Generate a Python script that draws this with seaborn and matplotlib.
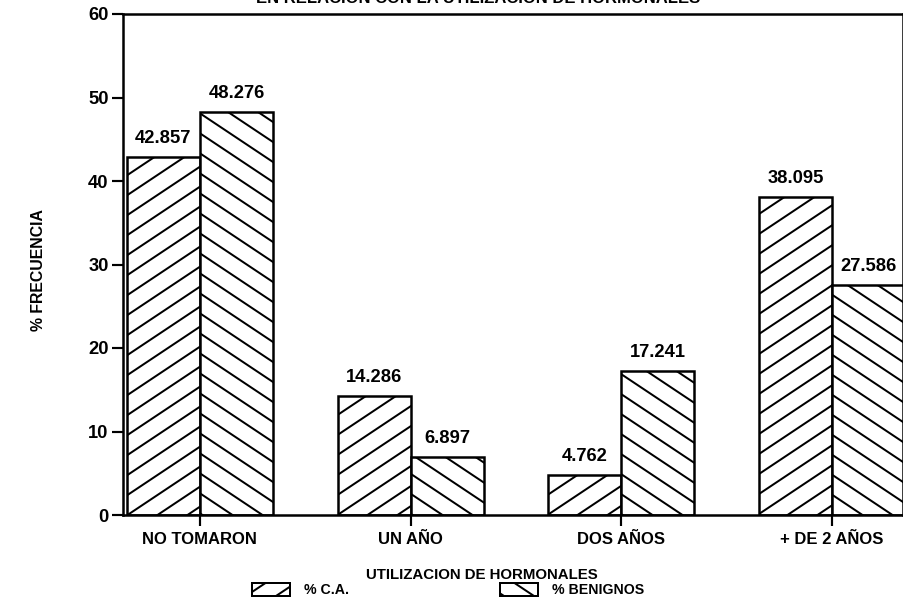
import numpy as np
import pandas as pd
import matplotlib
matplotlib.use("Agg")
import matplotlib.pyplot as plt
import matplotlib.patches as mpatches
import matplotlib.hatch as mhatch
from matplotlib.path import Path
import seaborn as sns

# datos
categorias = ["NO TOMARON", "UN AÑO", "DOS AÑOS", "+ DE 2 AÑOS"]
series = ["% C.A.", "% BENIGNOS"]
pct_ca = [42.857, 14.286, 4.762, 38.095]
pct_benignos = [48.276, 6.897, 17.241, 27.586]
yticks = [0, 10, 20, 30, 40, 50, 60]

df = pd.DataFrame({
    "utilizacion": categorias * 2,
    "serie": [series[0]] * 4 + [series[1]] * 4,
    "pct": pct_ca + pct_benignos,
})


# rayado mas tendido que 45 grados (pendiente 2/3), como en el original
class RayadoTendido(mhatch.HatchPatternBase):
    pendiente = 2 / 3
    caracter = "/"

    def __init__(self, hatch, density):
        self.n = int(hatch.count(self.caracter) * density / 2)
        if self.n:
            self.ks = np.arange(-int(np.ceil(self.pendiente * self.n)) - 2, self.n + 3)
            self.num_vertices = len(self.ks) * 2
        else:
            self.num_vertices = 0

    def set_vertices_and_codes(self, vertices, codes):
        c = self.ks / self.n
        x0, x1 = -0.3, 1.3
        if self.caracter == "/":
            vertices[0::2, 0] = x0
            vertices[0::2, 1] = c + self.pendiente * x0
            vertices[1::2, 0] = x1
            vertices[1::2, 1] = c + self.pendiente * x1
        else:
            vertices[0::2, 0] = x0
            vertices[0::2, 1] = c - self.pendiente * x0 + self.pendiente
            vertices[1::2, 0] = x1
            vertices[1::2, 1] = c - self.pendiente * x1 + self.pendiente
        codes[0::2] = Path.MOVETO
        codes[1::2] = Path.LINETO


class RayadoTendidoInv(RayadoTendido):
    caracter = "\\"


mhatch._hatch_types = [t for t in mhatch._hatch_types
                       if t not in (mhatch.NorthEastHatch, mhatch.SouthEastHatch)]
mhatch._hatch_types += [RayadoTendido, RayadoTendidoInv]

negro = {"axes.edgecolor": "black", "text.color": "black", "xtick.color": "black",
         "ytick.color": "black", "axes.labelcolor": "black"}
sns.set_style("ticks", negro)
plt.rcParams["font.family"] = ["Liberation Sans", "DejaVu Sans"]
plt.rcParams["font.weight"] = "bold"
plt.rcParams["hatch.linewidth"] = 1.2
plt.rcParams["hatch.color"] = "black"

fig = plt.figure(figsize=(903 / 120, 601 / 120), dpi=120)
ax = fig.add_axes([123 / 903, 86 / 601, 1 - 123 / 903, 501 / 601])

sns.barplot(data=df, x="utilizacion", y="pct", hue="serie", order=categorias,
            hue_order=series, palette=["white", "white"], edgecolor="black",
            linewidth=1.5, width=0.693, gap=0, legend=False, ax=ax)

hatches = ["//", "\\\\"]
for cont, h in zip(ax.containers, hatches):
    for bar in cont:
        bar.set_hatch(h)
    ax.bar_label(cont, fmt="%.3f", padding=6, fontsize=11, fontweight="bold")

ax.set_xlim(-0.365, 3.336)
ax.set_ylim(0, 60)
ax.set_yticks(yticks)
ax.tick_params(axis="both", length=6.6, width=1.3, direction="out")
ax.tick_params(axis="x", labelsize=10, pad=3.5)
ax.tick_params(axis="y", labelsize=11, pad=2)
for lab in ax.get_xticklabels() + ax.get_yticklabels():
    lab.set_fontweight("bold")
for sp in ax.spines.values():
    sp.set_linewidth(1.5)

ax.set_xlabel("UTILIZACION DE HORMONALES", fontsize=9, fontweight="bold")
ax.xaxis.set_label_coords(0.46, -0.106)
ax.set_ylabel("% FRECUENCIA", fontsize=9.5, fontweight="bold")
ax.yaxis.set_label_coords(-0.099, 0.49)

# titulo cortado en el borde superior
fig.text(478 / 903, 1 - 6 / 601, "EN RELACION CON LA UTILIZACION DE HORMONALES",
         ha="center", va="bottom", fontsize=10, fontweight="bold")

handles = [mpatches.Patch(facecolor="white", edgecolor="black", hatch=h, linewidth=1.2)
           for h in hatches]
fig.legend(handles, series, loc="center left", bbox_to_anchor=(245 / 903, 1 - 590 / 601),
           ncol=2, frameon=False, handlelength=2.7, handleheight=1.0,
           handletextpad=1.0, columnspacing=10.6, borderpad=0,
           prop={"weight": "bold", "size": 8.5})

fig.savefig("out.png", dpi=120)
